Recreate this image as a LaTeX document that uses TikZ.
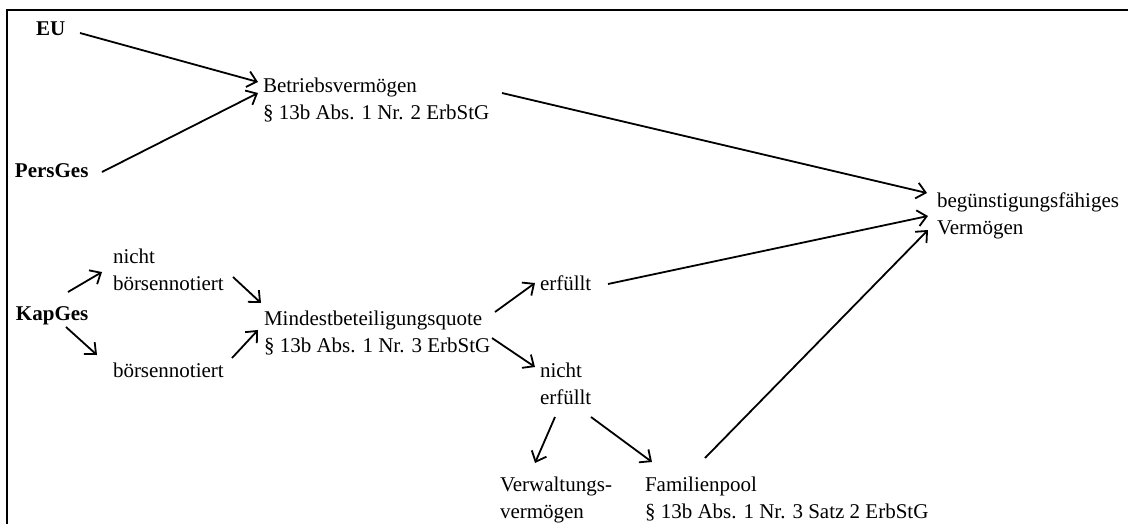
\documentclass[tikz,border=0pt]{standalone}
\usepackage{fontspec}
\setmainfont{Liberation Serif}
\usetikzlibrary{arrows.meta,calc}
\tikzset{
  lbl/.style={anchor=base west, inner sep=0pt, outer sep=0pt, font=\fontsize{21}{27.5}\selectfont},
  blbl/.style={lbl, font=\fontsize{21}{27.5}\selectfont\bfseries},
  arr/.style={line width=1.8pt, -{Straight Barb[length=9pt,width=16pt]}},
  frame/.style={line width=2pt}
}
\newcommand{\twolines}[2]{\begin{tabular}[t]{@{}l@{}}#1\\#2\end{tabular}}
\begin{document}
\begin{tikzpicture}[x=1pt,y=-1pt]
\useasboundingbox (0,0) rectangle (1128,523);
\draw[frame] (7,530) -- (7,10) -- (1135,10);

\node[blbl] (eu)   at (36,35)  {EU};
\node[blbl] (pers) at (15,177) {PersGes};
\node[blbl] (kap)  at (16,320) {KapGes};
\node[lbl] (betr) at (263,92) {\twolines{Betriebsvermögen}{§ 13b Abs. 1 Nr. 2 ErbStG}};
\node[lbl] (nb)   at (113,263) {\twolines{nicht}{börsennotiert}};
\node[lbl] (b)    at (113,377) {börsennotiert};
\node[lbl] (mind) at (264,325) {\twolines{Mindestbeteiligungsquote}{§ 13b Abs. 1 Nr. 3 ErbStG}};
\node[lbl] (erf)  at (540,290) {erfüllt};
\node[lbl] (nerf) at (540,377) {\twolines{nicht}{erfüllt}};
\node[lbl] (beg)  at (937,207) {\twolines{begünstigungsfähiges}{Vermögen}};
\node[lbl] (verw) at (500,491) {\twolines{Verwaltungs-}{vermögen}};
\node[lbl] (fam)  at (645,491) {\twolines{Familienpool}{§ 13b Abs. 1 Nr. 3 Satz 2 ErbStG}};

\draw[arr] ($(eu.base west)+(44,-2)$) -- ($(betr.base west)+(-5,-10)$);
\draw[arr] ($(pers.base west)+(87,-5)$) -- ($(betr.base west)+(-5,1)$);
\draw[arr] ($(betr.base west)+(239,1)$) -- ($(beg.base west)+(-10,-14)$);
\draw[arr] ($(erf.base west)+(68,-6)$) -- ($(beg.base west)+(-9,9)$);
\draw[arr] ($(fam.base west)+(60,-33)$) -- ($(beg.base west)+(-9,23)$);
\draw[arr] ($(kap.base west)+(52,-28)$) -- ($(nb.base west)+(-11,9)$);
\draw[arr] ($(kap.base west)+(50,7)$) -- ($(b.base west)+(-16,-22)$);
\draw[arr] ($(nb.base west)+(120,14)$) -- ($(mind.base west)+(-3,-22)$);
\draw[arr] ($(b.base west)+(119,-19)$) -- ($(mind.base west)+(-6,5)$);
\draw[arr] ($(mind.base west)+(231,-13)$) -- ($(erf.base west)+(-5,-7)$);
\draw[arr] ($(mind.base west)+(228,13)$) -- ($(nerf.base west)+(-5,-10)$);
\draw[arr] ($(nerf.base west)+(15,40)$) -- ($(verw.base west)+(35,-28)$);
\draw[arr] ($(nerf.base west)+(51,40)$) -- ($(fam.base west)+(7,-29)$);
\end{tikzpicture}
\end{document}
